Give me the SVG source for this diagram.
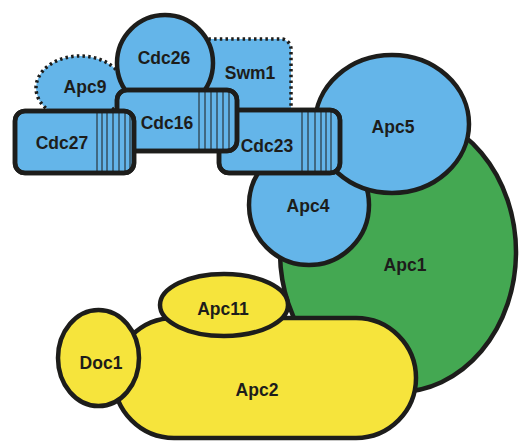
<svg xmlns="http://www.w3.org/2000/svg" width="519" height="443" viewBox="0 0 519 443">
<style>
.b{fill:#64b5e9;stroke:#1d1d1b;stroke-width:4.5}
.g{fill:#44a852;stroke:#1d1d1b;stroke-width:4.5}
.y{fill:#f6e43c;stroke:#1d1d1b;stroke-width:4.5}
.d{fill:#64b5e9;stroke:#1d1d1b;stroke-width:3.5;stroke-dasharray:2.5 3.2}
.r{stroke:#1d1d1b;stroke-width:1}
.o{fill:none;stroke:#1d1d1b;stroke-width:4.5}
text{font-family:"Liberation Sans",Arial,sans-serif;font-weight:bold;font-size:17.5px;fill:#1d1d1b;text-anchor:middle}
</style>
<rect width="519" height="443" fill="#ffffff"/>
<g id="Apc1"><ellipse class="g" cx="398" cy="252" rx="118" ry="140"/><text x="405" y="271">Apc1</text></g>
<g id="Apc4"><circle class="b" cx="309" cy="205" r="60"/><text x="308" y="212">Apc4</text></g>
<g id="Apc5"><ellipse class="b" cx="392" cy="124" rx="77" ry="69"/><text x="393" y="133">Apc5</text></g>
<g id="Swm1"><rect class="d" x="187" y="39" width="104" height="80" rx="10"/><text x="250" y="79">Swm1</text></g>
<g id="Apc9"><ellipse class="d" cx="80" cy="88" rx="44" ry="32"/><text x="85" y="93">Apc9</text></g>
<g id="Cdc26"><circle class="b" cx="165" cy="63" r="48"/><text x="164" y="64">Cdc26</text></g>
<g id="Cdc23"><rect class="b" x="219" y="110" width="121" height="63" rx="10"/>
<g class="r"><path d="M302 112V171M308 112V171M315 112V171M321 112V171M326 112V171M331 112V171"/></g>
<rect class="o" x="219" y="110" width="121" height="63" rx="10"/><text x="267" y="152">Cdc23</text></g>
<g id="Cdc16"><rect class="b" x="117" y="90" width="120" height="61" rx="10"/>
<g class="r"><path d="M199 92V149M205 92V149M211 92V149M217 92V149M223 92V149M229 92V149"/></g>
<rect class="o" x="117" y="90" width="120" height="61" rx="10"/><text x="167" y="129">Cdc16</text></g>
<g id="Cdc27"><rect class="b" x="15" y="111" width="119" height="62" rx="10"/>
<g class="r"><path d="M97 113V171M102 113V171M107 113V171M113 113V171M119 113V171M125 113V171M130 113V171"/></g>
<rect class="o" x="15" y="111" width="119" height="62" rx="10"/><text x="62" y="149">Cdc27</text></g>
<g id="Apc2"><rect class="y" x="114" y="318" width="302" height="120" rx="60"/><text x="257" y="396">Apc2</text></g>
<g id="Apc11"><ellipse class="y" cx="224" cy="305" rx="64" ry="31"/><text x="223" y="315">Apc11</text></g>
<g id="Doc1"><ellipse class="y" cx="98.5" cy="358" rx="40.5" ry="48"/><text x="101" y="369">Doc1</text></g>
<g id="connectors"/>
</svg>
